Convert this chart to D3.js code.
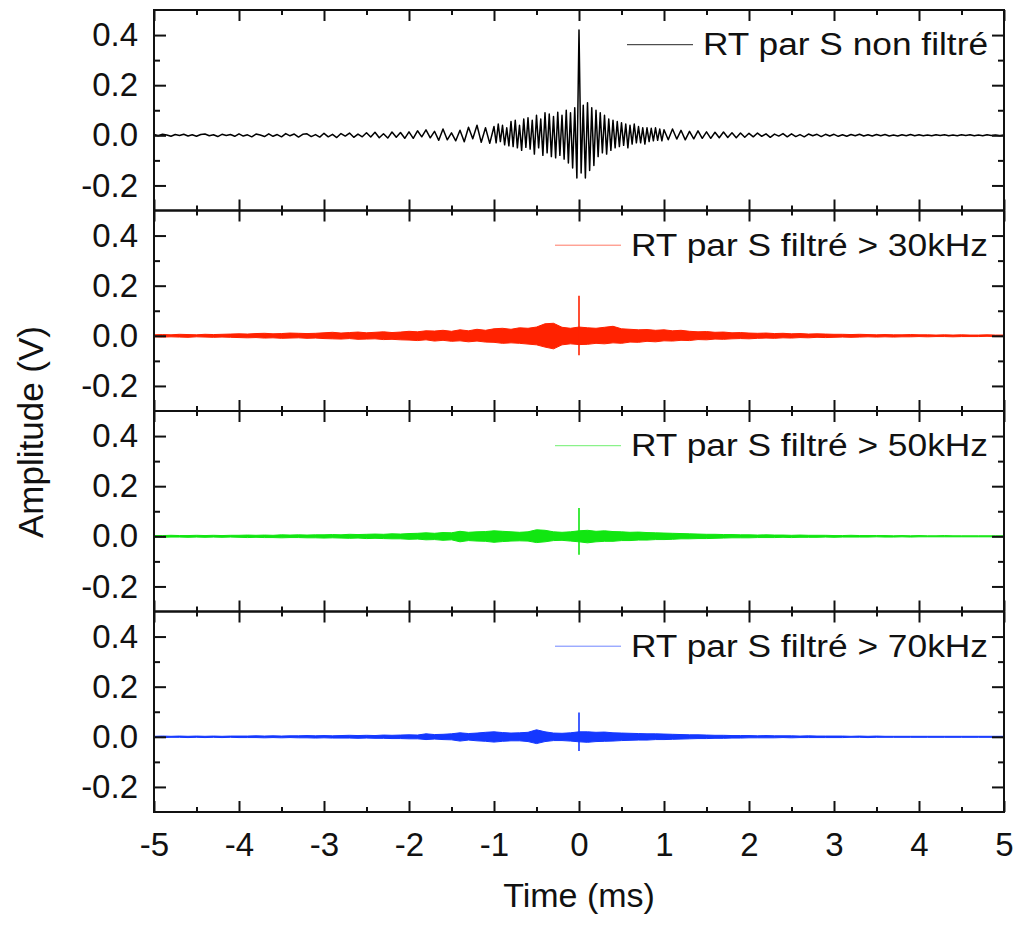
<!DOCTYPE html>
<html><head><meta charset="utf-8">
<script src="https://cdn.jsdelivr.net/npm/d3@7"></script>
<style>body{margin:0;background:#fff}text{font-family:"Liberation Sans",Arial,sans-serif;fill:#111}</style>
</head><body>
<svg id="c" width="1019" height="925"></svg>
<script>
// ---------- axis / labels ----------
const xMajorTicks = [-5,-4,-3,-2,-1,0,1,2,3,4,5];
const xMinorTicks = [-4.5,-3.5,-2.5,-1.5,-0.5,0.5,1.5,2.5,3.5,4.5];
const yMajorTicks = [0.4,0.2,0.0,-0.2];
const yMinorTicks = [0.3,0.1,-0.1];
const yTickLabels = ["0.4","0.2","0.0","-0.2"];
const xTitle = "Time (ms)";
const yTitle = "Amplitude (V)";
const seriesNames = ["RT par S non filtré","RT par S filtré > 30kHz","RT par S filtré > 50kHz","RT par S filtré > 70kHz"];
const seriesColors = ["#000000","#ff2200","#11e611","#1438ff"];

const blackTime = [].concat(
  d3.range(-5, -2 - 1e-9, 0.05),
  d3.range(-2, -1 - 1e-9, 0.05),
  d3.range(-1, 1 - 1e-9, 0.025),
  d3.range(1, 2 - 1e-9, 0.05),
  d3.range(2, 5 + 1e-9, 0.05));
const blackValues = [
  // -5.0 .. -2.05 (step 0.05)
  0.003,-0.002,0.004,0.001,-0.004,0.003,-0.001,0.004,-0.003,0.002,
  -0.004,0.003,0.005,-0.002,0.002,-0.005,0.004,-0.001,0.003,-0.004,
  0.006,-0.003,0.002,-0.006,0.005,0.001,-0.005,0.006,-0.004,0.003,
  -0.006,0.007,-0.002,0.005,-0.007,0.004,0.006,-0.005,0.003,-0.007,
  0.008,-0.006,0.004,-0.009,0.007,-0.003,0.009,-0.008,0.005,-0.006,
  0.010,-0.007,0.012,-0.010,0.006,-0.011,0.013,-0.008,0.011,-0.012,
  // -2.0 .. -1.05 (step 0.05)
  0.014,-0.012,0.018,-0.006,0.022,-0.010,0.016,-0.020,0.025,-0.018,
  0.010,-0.022,0.020,-0.026,0.032,-0.014,0.040,-0.028,0.030,-0.032,
  // -1.0 .. 0.975 (step 0.025)
  0.035,-0.030,0.045,-0.025,0.040,-0.038,0.030,-0.042,
  0.055,-0.045,0.060,-0.050,0.040,-0.060,0.065,-0.048,
  0.070,-0.055,0.060,-0.075,0.080,-0.050,0.065,-0.080,
  0.090,-0.070,0.085,-0.085,0.075,-0.090,0.092,-0.080,
  0.080,-0.095,0.100,-0.110,0.090,-0.130,0.110,-0.170,
  0.420,
  -0.150,0.120,-0.170,0.130,-0.140,0.110,-0.120,
  0.100,-0.085,0.090,-0.070,0.080,-0.075,0.065,-0.060,
  0.060,-0.050,0.055,-0.045,0.050,-0.040,0.045,-0.050,
  0.040,-0.035,0.045,-0.030,0.035,-0.030,0.030,-0.035,
  0.030,-0.025,0.028,-0.022,0.030,-0.020,0.025,-0.022,
  // 1.0 .. 1.95 (step 0.05)
  0.022,-0.018,0.025,-0.015,0.020,-0.018,0.016,-0.014,0.018,-0.012,
  0.014,-0.012,0.012,-0.010,0.013,-0.009,0.010,-0.010,0.009,-0.008,
  // 2.0 .. 5.0 (step 0.05)
  0.008,-0.006,0.009,-0.004,0.006,-0.008,0.005,-0.003,0.007,-0.006,
  0.006,-0.005,0.003,-0.006,0.005,-0.002,0.004,-0.005,0.004,-0.003,
  0.004,-0.004,0.002,-0.004,0.003,-0.002,0.004,-0.003,0.002,-0.003,
  0.003,-0.002,0.003,-0.003,0.001,-0.003,0.002,-0.002,0.003,-0.002,
  0.002,-0.002,0.001,-0.002,0.002,-0.001,0.002,-0.002,0.001,-0.002,
  0.002,-0.001,0.002,-0.002,0.001,-0.002,0.002,-0.001,0.001,-0.002,
  0.001
];

// ---------- filtered series: envelopes every 0.1 ms ----------
const envTime = d3.range(-5, 5 + 1e-9, 0.1);
const redUpper = [
  0.004,0.005,0.004,0.006,0.005,0.004,0.006,0.005,0.006,0.007,
  0.008,0.007,0.009,0.010,0.008,0.009,0.011,0.010,0.009,0.010,
  0.012,0.014,0.011,0.013,0.015,0.012,0.014,0.016,0.013,0.015,
  0.018,0.016,0.020,0.019,0.022,0.018,0.024,0.020,0.026,0.022,
  0.028,0.030,0.026,0.032,0.030,0.035,0.048,0.050,0.034,0.030,
  0.035,
  0.032,0.030,0.034,0.038,0.028,0.026,0.024,0.025,0.022,0.024,
  0.020,0.022,0.018,0.016,0.017,0.014,0.015,0.012,0.013,0.011,
  0.010,0.011,0.009,0.010,0.008,0.009,0.007,0.008,0.007,0.006,
  0.006,0.005,0.006,0.005,0.004,0.005,0.004,0.004,0.005,0.004,
  0.004,0.003,0.004,0.003,0.004,0.003,0.003,0.004,0.003,0.003];
const redLower = [
  -0.004,-0.005,-0.004,-0.005,-0.006,-0.004,-0.005,-0.006,-0.005,-0.006,
  -0.007,-0.008,-0.007,-0.009,-0.008,-0.010,-0.009,-0.008,-0.010,-0.009,
  -0.011,-0.012,-0.013,-0.011,-0.014,-0.013,-0.012,-0.015,-0.014,-0.016,
  -0.017,-0.019,-0.016,-0.021,-0.018,-0.022,-0.020,-0.024,-0.021,-0.025,
  -0.026,-0.030,-0.028,-0.030,-0.033,-0.036,-0.045,-0.052,-0.036,-0.032,
  -0.035,
  -0.034,-0.030,-0.032,-0.028,-0.030,-0.025,-0.026,-0.022,-0.024,-0.020,
  -0.021,-0.018,-0.019,-0.015,-0.016,-0.013,-0.014,-0.012,-0.011,-0.012,
  -0.010,-0.009,-0.010,-0.008,-0.009,-0.007,-0.008,-0.006,-0.007,-0.006,
  -0.005,-0.006,-0.005,-0.004,-0.005,-0.004,-0.005,-0.004,-0.004,-0.003,
  -0.004,-0.003,-0.003,-0.004,-0.003,-0.003,-0.003,-0.002,-0.003,-0.003];
const redSpike = [0.160, -0.078];

const greenUpper = [
  0.003,0.003,0.004,0.003,0.003,0.004,0.003,0.004,0.003,0.004,
  0.004,0.005,0.004,0.005,0.004,0.006,0.005,0.006,0.005,0.006,
  0.006,0.007,0.006,0.008,0.007,0.008,0.009,0.008,0.010,0.009,
  0.011,0.012,0.014,0.012,0.015,0.014,0.020,0.016,0.018,0.019,
  0.022,0.020,0.018,0.016,0.018,0.026,0.024,0.018,0.016,0.018,
  0.022,
  0.024,0.020,0.022,0.019,0.018,0.016,0.017,0.015,0.014,0.013,
  0.012,0.011,0.010,0.009,0.008,0.008,0.007,0.007,0.006,0.006,
  0.005,0.006,0.005,0.005,0.004,0.005,0.004,0.004,0.004,0.003,
  0.003,0.004,0.003,0.003,0.003,0.003,0.002,0.003,0.002,0.003,
  0.002,0.002,0.003,0.002,0.002,0.002,0.002,0.002,0.002,0.002];
const greenLower = [
  -0.003,-0.004,-0.003,-0.003,-0.004,-0.003,-0.004,-0.003,-0.004,-0.003,
  -0.004,-0.005,-0.004,-0.005,-0.005,-0.006,-0.005,-0.005,-0.006,-0.006,
  -0.007,-0.006,-0.007,-0.008,-0.007,-0.009,-0.008,-0.009,-0.010,-0.010,
  -0.012,-0.011,-0.014,-0.013,-0.016,-0.014,-0.022,-0.017,-0.019,-0.020,
  -0.024,-0.021,-0.019,-0.018,-0.019,-0.025,-0.022,-0.017,-0.016,-0.019,
  -0.022,
  -0.026,-0.022,-0.020,-0.020,-0.017,-0.017,-0.015,-0.015,-0.013,-0.013,
  -0.012,-0.010,-0.010,-0.009,-0.009,-0.008,-0.007,-0.006,-0.006,-0.006,
  -0.005,-0.005,-0.005,-0.004,-0.005,-0.004,-0.004,-0.004,-0.003,-0.004,
  -0.003,-0.003,-0.003,-0.003,-0.002,-0.003,-0.003,-0.002,-0.003,-0.002,
  -0.002,-0.002,-0.002,-0.002,-0.002,-0.002,-0.002,-0.002,-0.002,-0.002];
const greenSpike = [0.113, -0.074];

const blueUpper = [
  0.002,0.003,0.002,0.003,0.002,0.003,0.002,0.003,0.002,0.003,
  0.003,0.003,0.004,0.003,0.004,0.003,0.004,0.004,0.005,0.004,
  0.005,0.004,0.005,0.006,0.005,0.006,0.005,0.007,0.006,0.007,
  0.008,0.007,0.012,0.009,0.010,0.012,0.016,0.013,0.015,0.018,
  0.020,0.017,0.015,0.016,0.018,0.028,0.020,0.015,0.014,0.016,
  0.020,
  0.020,0.018,0.019,0.016,0.015,0.014,0.013,0.012,0.012,0.011,
  0.010,0.009,0.008,0.008,0.007,0.006,0.006,0.005,0.005,0.005,
  0.004,0.005,0.004,0.004,0.004,0.003,0.004,0.003,0.003,0.003,
  0.003,0.002,0.003,0.002,0.003,0.002,0.002,0.002,0.002,0.002,
  0.002,0.002,0.002,0.002,0.002,0.002,0.002,0.002,0.002,0.002];
const blueLower = [
  -0.002,-0.003,-0.002,-0.002,-0.003,-0.002,-0.003,-0.002,-0.003,-0.002,
  -0.003,-0.003,-0.003,-0.004,-0.003,-0.004,-0.003,-0.004,-0.004,-0.005,
  -0.004,-0.005,-0.005,-0.005,-0.006,-0.005,-0.006,-0.006,-0.007,-0.007,
  -0.008,-0.008,-0.011,-0.009,-0.011,-0.012,-0.017,-0.013,-0.016,-0.018,
  -0.021,-0.018,-0.016,-0.016,-0.019,-0.027,-0.019,-0.015,-0.015,-0.017,
  -0.020,
  -0.022,-0.019,-0.018,-0.017,-0.015,-0.014,-0.013,-0.013,-0.011,-0.011,
  -0.010,-0.009,-0.008,-0.007,-0.007,-0.006,-0.006,-0.005,-0.005,-0.004,
  -0.004,-0.004,-0.004,-0.003,-0.004,-0.003,-0.003,-0.003,-0.003,-0.003,
  -0.003,-0.002,-0.002,-0.003,-0.002,-0.002,-0.002,-0.002,-0.002,-0.002,
  -0.002,-0.002,-0.002,-0.002,-0.002,-0.002,-0.002,-0.002,-0.002,-0.002];
const blueSpike = [0.097, -0.057];

// ---------- layout ----------
const svg = d3.select("#c");
const left = 154, right = 1004, top0 = 10, panelH = 200.5, nPanels = 4;
const x = d3.scaleLinear().domain([-5, 5]).range([left, right]);
const yScale = i => d3.scaleLinear().domain([-0.3, 0.5])
  .range([top0 + (i + 1) * panelH, top0 + i * panelH]);

const bands = [null,
  {up: redUpper, lo: redLower, spike: redSpike},
  {up: greenUpper, lo: greenLower, spike: greenSpike},
  {up: blueUpper, lo: blueLower, spike: blueSpike}];

for (let i = 0; i < nPanels; i++) {
  const y = yScale(i);
  const g = svg.append("g");
  const col = seriesColors[i];
  if (i === 0) {
    const n = Math.min(blackTime.length, blackValues.length);
    const pts = blackTime.slice(0, n).map((t, k) => [t, blackValues[k]]);
    g.append("path").datum(pts)
      .attr("d", d3.line().x(d => x(d[0])).y(d => y(d[1])))
      .attr("fill", "none").attr("stroke", col).attr("stroke-width", 1.5)
      .attr("stroke-linejoin", "round");
  } else {
    const b = bands[i];
    const n = Math.min(envTime.length, b.up.length, b.lo.length);
    const pts = envTime.slice(0, n).map((t, k) => [t, b.lo[k], b.up[k]]);
    g.append("path").datum(pts)
      .attr("d", d3.area().x(d => x(d[0])).y0(d => y(d[1])).y1(d => y(d[2])))
      .attr("fill", col).attr("stroke", col).attr("stroke-width", 1)
      .attr("stroke-linejoin", "round");
    g.append("line")
      .attr("x1", x(0)).attr("x2", x(0))
      .attr("y1", y(b.spike[0])).attr("y2", y(b.spike[1]))
      .attr("stroke", col).attr("stroke-width", 1.6);
  }

  const pTop = top0 + i * panelH, pBot = top0 + (i + 1) * panelH;
  svg.append("rect").attr("x", left).attr("y", pTop)
    .attr("width", right - left).attr("height", panelH)
    .attr("fill", "none").attr("stroke", "#111").attr("stroke-width", 2);

  const tickStyle = sel => {
    sel.select(".domain").remove();
    sel.selectAll("line").attr("stroke", "#111").attr("stroke-width", 2);
  };
  svg.append("g").attr("transform", `translate(0,${pTop})`)
    .call(d3.axisBottom(x).tickValues(xMajorTicks).tickSize(11).tickFormat("")).call(tickStyle);
  svg.append("g").attr("transform", `translate(0,${pTop})`)
    .call(d3.axisBottom(x).tickValues(xMinorTicks).tickSize(5).tickFormat("")).call(tickStyle);
  svg.append("g").attr("transform", `translate(0,${pBot})`)
    .call(d3.axisTop(x).tickValues(xMajorTicks).tickSize(11).tickFormat("")).call(tickStyle);
  svg.append("g").attr("transform", `translate(0,${pBot})`)
    .call(d3.axisTop(x).tickValues(xMinorTicks).tickSize(5).tickFormat("")).call(tickStyle);
  svg.append("g").attr("transform", `translate(${left},0)`)
    .call(d3.axisRight(y).tickValues(yMajorTicks).tickSize(12).tickFormat("")).call(tickStyle);
  svg.append("g").attr("transform", `translate(${left},0)`)
    .call(d3.axisRight(y).tickValues(yMinorTicks).tickSize(6).tickFormat("")).call(tickStyle);
  svg.append("g").attr("transform", `translate(${right},0)`)
    .call(d3.axisLeft(y).tickValues(yMajorTicks).tickSize(12).tickFormat("")).call(tickStyle);
  svg.append("g").attr("transform", `translate(${right},0)`)
    .call(d3.axisLeft(y).tickValues(yMinorTicks).tickSize(6).tickFormat("")).call(tickStyle);
  const yl = svg.append("g").attr("transform", `translate(${left},0)`)
    .call(d3.axisLeft(y).tickValues(yMajorTicks).tickSize(0).tickPadding(16)
      .tickFormat((d, k) => yTickLabels[k]));
  yl.select(".domain").remove();
  yl.selectAll("text").attr("font-size", 33).attr("fill", "#111")
    .style("font-family", '"Liberation Sans",Arial,sans-serif');

  const legY = pTop + 34.7, legBase = pTop + 45.3;
  const textX = i === 0 ? 703 : 631;
  svg.append("line").attr("x1", textX - 76).attr("x2", textX - 10)
    .attr("y1", legY).attr("y2", legY)
    .attr("stroke", col).attr("stroke-width", 1).attr("opacity", i === 0 ? 0.85 : 0.6);
  svg.append("text").attr("x", textX).attr("y", legBase)
    .attr("font-size", 31)
    .attr("textLength", 988 - textX).attr("lengthAdjust", "spacingAndGlyphs")
    .text(seriesNames[i]);
}

const xl = svg.append("g").attr("transform", `translate(0,${top0 + nPanels * panelH})`)
  .call(d3.axisBottom(x).tickValues(xMajorTicks).tickSize(0).tickPadding(21)
    .tickFormat(d => String(d)));
xl.select(".domain").remove();
xl.selectAll("text").attr("font-size", 33).attr("fill", "#111")
  .style("font-family", '"Liberation Sans",Arial,sans-serif');

svg.append("text").attr("x", (left + right) / 2).attr("y", 907)
  .attr("text-anchor", "middle").attr("font-size", 34).text(xTitle);
svg.append("text").attr("transform", "translate(43,432) rotate(-90)")
  .attr("text-anchor", "middle").attr("font-size", 35).text(yTitle);
</script>
</body></html>
